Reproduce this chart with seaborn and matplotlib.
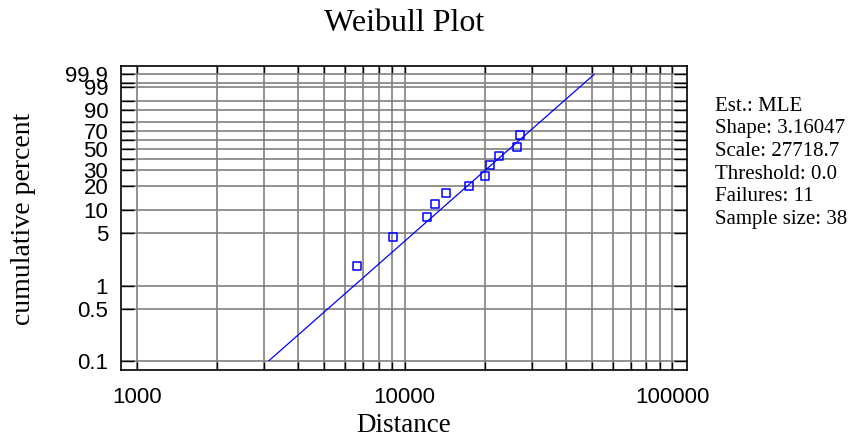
import numpy as np
import pandas as pd
import matplotlib
matplotlib.use("Agg")
import matplotlib.pyplot as plt
import matplotlib.transforms as mtransforms
import seaborn as sns
from matplotlib.ticker import FixedLocator, NullFormatter

# ---------------- data ----------------
distance = [6660, 9060, 12170, 13000, 14290, 17460, 19930, 20810, 22470, 26380, 27070]
cum_percent = [1.85, 4.49, 8.17, 11.85, 16.1, 19.9, 25.6, 34.1, 42.6, 52.3, 65.0]

shape_param = 3.16047
scale_param = 27718.7
fit_percent_range = [0.1, 99.9]

x_ticks = [1000, 10000, 100000]
x_tick_labels = ["1000", "10000", "100000"]
y_ticks = [0.1, 0.5, 1, 5, 10, 20, 30, 40, 50, 60, 70, 80, 90, 95, 99, 99.5, 99.9]
y_tick_labels = ["0.1", "0.5", "1", "5", "10", "20", "30", "", "50", "", "70", "", "90", "", "99", "", "99.9"]

info_lines = ["Est.: MLE", "Shape: 3.16047", "Scale: 27718.7",
              "Threshold: 0.0", "Failures: 11", "Sample size: 38"]

# ---------------- style ----------------
sns.set_style("white")
plt.rcParams["font.family"] = ["Liberation Serif", "DejaVu Serif"]
plt.rcParams["text.color"] = "black"
plt.rcParams["axes.labelcolor"] = "black"
plt.rcParams["xtick.color"] = "black"
plt.rcParams["ytick.color"] = "black"

W, H = 853, 447
AX_L, AX_R, AX_T, AX_B = 120.7, 686.7, 66.0, 370.0
fig = plt.figure(figsize=(W / 100, H / 100), dpi=100)
ax = fig.add_axes([AX_L / W, 1 - AX_B / H, (AX_R - AX_L) / W, (AX_B - AX_T) / H])


def fwd(p):
    p = np.clip(np.asarray(p, dtype=float), 1e-9, 100 - 1e-9)
    return np.log(-np.log1p(-p / 100.0))


def inv(w):
    return 100.0 * (-np.expm1(-np.exp(np.asarray(w, dtype=float))))


ax.set_xscale("log")
ax.set_yscale("function", functions=(fwd, inv))

# fitted Weibull line from the model parameters
p_line = np.linspace(fit_percent_range[0], fit_percent_range[1], 200)
t_line = scale_param * (-np.log1p(-p_line / 100.0)) ** (1.0 / shape_param)
line_df = pd.DataFrame({"t": t_line, "p": p_line})
sns.lineplot(data=line_df, x="t", y="p", ax=ax, color="#0000FF", lw=0.9,
             sort=False, zorder=4)

pts = pd.DataFrame({"Distance": distance, "pct": cum_percent})
sns.scatterplot(data=pts, x="Distance", y="pct", ax=ax, marker="s", s=32,
                facecolor="none", edgecolor="#0000FF", linewidth=1.1, zorder=5)

ax.set_xlim(871.3, 113180)
ax.set_ylim(0.0751, 99.9867)

# x ticks
ax.xaxis.set_major_locator(FixedLocator(x_ticks))
ax.xaxis.set_major_formatter(NullFormatter())
minor_x = [m * 10 ** e for e in (3, 4) for m in range(2, 10)]
ax.xaxis.set_minor_locator(FixedLocator(minor_x))
ax.xaxis.set_minor_formatter(NullFormatter())

# y ticks
ax.set_yticks(y_ticks, labels=y_tick_labels)
ax.yaxis.set_minor_locator(FixedLocator([]))

ax.grid(True, which="both", axis="both", color="#808080", lw=1.2, zorder=1)
ax.set_axisbelow(True)

ax.tick_params(axis="x", which="both", direction="in", length=5.5, width=1.0,
               color="black", top=True, bottom=True)
ax.tick_params(axis="y", which="both", direction="in", length=9.5, width=1.0,
               color="black", left=True, right=True, pad=9,
               labelfontfamily="Liberation Sans", labelsize=16, labelcolor="black")

for sp in ax.spines.values():
    sp.set_visible(True)
    sp.set_color("black")
    sp.set_linewidth(1.2)

ax.set_xlabel("")
ax.set_ylabel("")

# x tick labels as figure texts anchored at the data x positions
xlab_trans = mtransforms.blended_transform_factory(ax.transData, fig.transFigure)
for xv, lab in zip(x_ticks, x_tick_labels):
    fig.text(xv, 1 - 403.3 / H, lab, transform=xlab_trans, ha="center",
             va="baseline", fontsize=16, family="Liberation Sans", color="black",
             zorder=10)

fig.text(404.5 / W, 1 - 30.7 / H, "Weibull Plot", ha="center", va="baseline",
         fontsize=23, color="black")
fig.text(404 / W, 1 - 431.7 / H, "Distance", ha="center", va="baseline",
         fontsize=19.5, color="black")
fig.text(24 / W, 1 - 219 / H, "cumulative percent", rotation=90,
         ha="center", va="center", fontsize=20, color="black")

for i, line in enumerate(info_lines):
    fig.text(715 / W, 1 - (110.7 + 22.7 * i) / H, line, ha="left", va="baseline",
             fontsize=15, color="black")

fig.savefig("out.png", dpi=100)
